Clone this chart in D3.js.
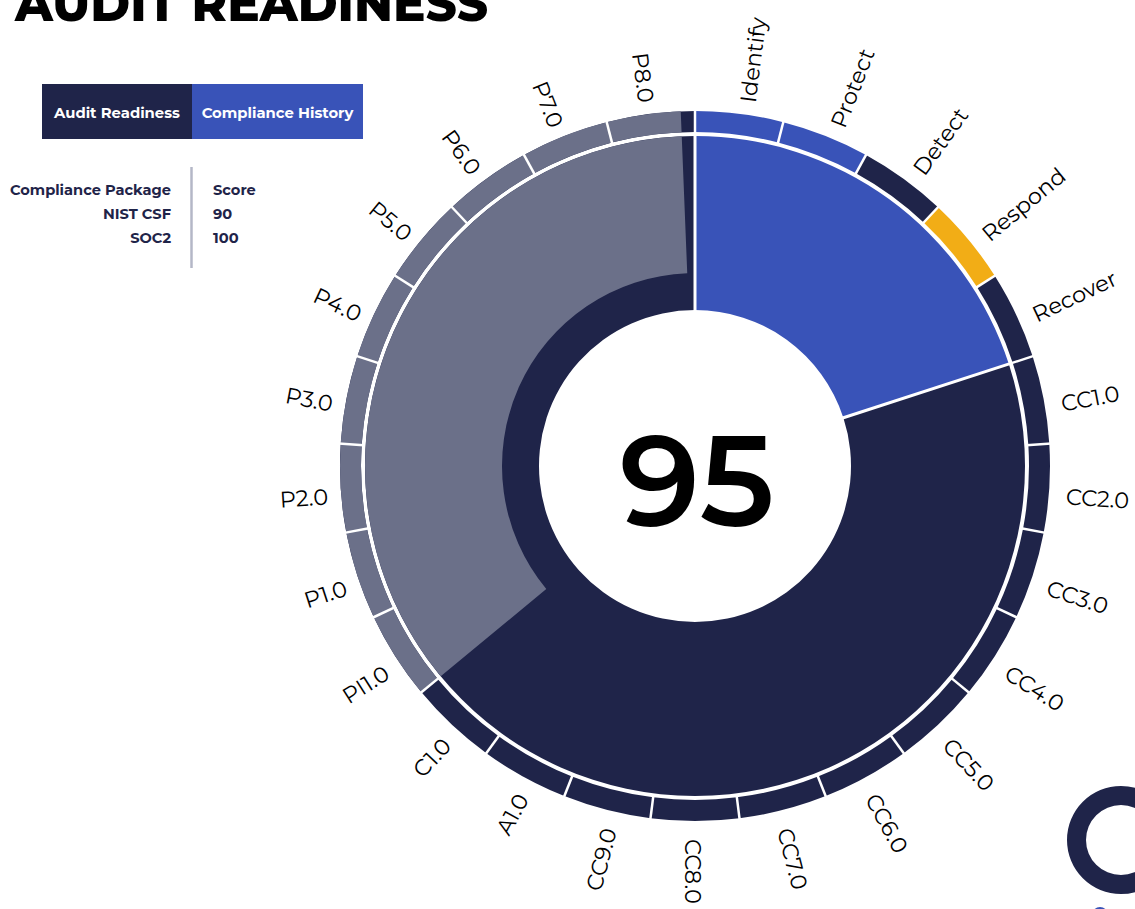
<!DOCTYPE html>
<html>
<head>
<meta charset="utf-8">
<script src="https://cdn.jsdelivr.net/npm/d3@7"></script>
<style>
  html, body { margin: 0; padding: 0; background: #fff; overflow: hidden; }
  svg { display: block; }
</style>
</head>
<body>
<div id="chart"></div>
<script>
// --- datos ---
const packages = ["NIST CSF", "SOC2"];
const packageScores = [90, 100];
const nistControls = ["Identify", "Protect", "Detect", "Respond", "Recover"];
const soc2Controls = ["CC1.0", "CC2.0", "CC3.0", "CC4.0", "CC5.0", "CC6.0", "CC7.0", "CC8.0", "CC9.0",
  "A1.0", "C1.0", "PI1.0", "P1.0", "P2.0", "P3.0", "P4.0", "P5.0", "P6.0", "P7.0", "P8.0"];
const nistStatus = ["met", "met", "open", "partial", "open"];
// tramo pendiente (gris): desde PI1.0 y cubre ~8.84 controles
const pendingFrom = "PI1.0";
const pendingSpan = 8.84;
const tabs = ["Audit Readiness", "Compliance History"];

const colors = { "NIST CSF": "#3953b8", "SOC2": "#1f2449", met: "#3953b8", open: "#1f2449",
  partial: "#f2ad16", pending: "#6b7089", text: "#1f2449" };

const W = 1135, H = 909;
const cx = 695, cy = 466;
const rHole = 156, rInner = 193, rMain = 330, rOut0 = 334, rOut1 = 355, rLabel = 370;

const svg = d3.select("#chart").append("svg").attr("width", W).attr("height", H);

// titulo (cortado arriba, como en la captura)
svg.append("text")
  .attr("x", 15).attr("y", 21)
  .attr("font-family", "Montserrat, 'Open Sans', 'Noto Sans', sans-serif")
  .attr("font-weight", 800).attr("font-size", 50)
  .attr("textLength", 473).attr("lengthAdjust", "spacingAndGlyphs")
  .attr("fill", "#000")
  .text("AUDIT READINESS");

// pestañas
const tabX = d3.scaleOrdinal().domain(tabs).range([42, 192]);
const tabW = d3.scaleOrdinal().domain(tabs).range([150, 171]);
const tabG = svg.append("g").selectAll("g").data(tabs).join("g");
tabG.append("rect")
  .attr("x", d => tabX(d)).attr("y", 84)
  .attr("width", d => tabW(d)).attr("height", 55)
  .attr("fill", (d, i) => i === 0 ? colors.SOC2 : colors["NIST CSF"]);
tabG.append("text")
  .attr("x", d => tabX(d) + tabW(d) / 2).attr("y", 117.5)
  .attr("text-anchor", "middle")
  .attr("font-family", "Montserrat, 'Open Sans', sans-serif")
  .attr("font-weight", 700).attr("font-size", 14.8)
  .attr("fill", "#fff")
  .text(d => d);

// tabla de puntuaciones
const rowY = d3.scalePoint().domain(["header", ...packages]).range([195, 243]);
const tabla = svg.append("g")
  .attr("font-family", "Montserrat, 'Open Sans', sans-serif")
  .attr("font-weight", 700).attr("font-size", 14.6).attr("fill", colors.text);
tabla.append("text").attr("x", 171).attr("y", rowY("header")).attr("text-anchor", "end").text("Compliance Package");
tabla.append("text").attr("x", 213).attr("y", rowY("header")).text("Score");
packages.forEach((p, i) => {
  tabla.append("text").attr("x", 171).attr("y", rowY(p)).attr("text-anchor", "end").text(p);
  tabla.append("text").attr("x", 213).attr("y", rowY(p)).text(packageScores[i]);
});
svg.append("line")
  .attr("x1", 191.5).attr("x2", 191.5).attr("y1", 167).attr("y2", 268)
  .attr("stroke", "#b4b7c7").attr("stroke-width", 2.5);

// --- grafico radial ---
const controls = nistControls.concat(soc2Controls);
const controlColor = controls.map((c, i) => i < nistControls.length ? colors[nistStatus[i]] : colors.SOC2);
const angle = d3.scaleLinear().domain([0, controls.length]).range([0, 2 * Math.PI]);
const g = svg.append("g").attr("transform", `translate(${cx},${cy})`);

const pkgSpans = [
  { pkg: packages[0], a0: 0, a1: nistControls.length },
  { pkg: packages[1], a0: nistControls.length, a1: controls.length }
];
const pStart = controls.indexOf(pendingFrom);
const pEnd = pStart + pendingSpan;

const arc = d3.arc();

// anillo principal
g.selectAll("path.pkg").data(pkgSpans).join("path")
  .attr("class", "pkg")
  .attr("fill", d => colors[d.pkg])
  .attr("d", d => arc({ innerRadius: rHole, outerRadius: rMain, startAngle: angle(d.a0), endAngle: angle(d.a1) }));
g.append("path")
  .attr("fill", colors.pending)
  .attr("d", arc({ innerRadius: rInner, outerRadius: rMain, startAngle: angle(pStart), endAngle: angle(pEnd) }));

// anillo exterior de controles
g.selectAll("path.ctrl").data(controls).join("path")
  .attr("class", "ctrl")
  .attr("fill", (d, i) => controlColor[i])
  .attr("d", (d, i) => arc({ innerRadius: rOut0, outerRadius: rOut1, startAngle: angle(i), endAngle: angle(i + 1) }));
g.append("path")
  .attr("fill", colors.pending)
  .attr("d", arc({ innerRadius: rOut0, outerRadius: rOut1, startAngle: angle(pStart), endAngle: angle(pEnd) }));

// separadores blancos
const radial = (a, r) => [r * Math.sin(a), -r * Math.cos(a)];
g.selectAll("line.sep").data(d3.range(controls.length)).join("line")
  .attr("class", "sep")
  .attr("x1", i => radial(angle(i), rOut0 - 2)[0]).attr("y1", i => radial(angle(i), rOut0 - 2)[1])
  .attr("x2", i => radial(angle(i), rOut1 + 2)[0]).attr("y2", i => radial(angle(i), rOut1 + 2)[1])
  .attr("stroke", "#fff").attr("stroke-width", 2.5);
g.selectAll("line.psep").data(pkgSpans).join("line")
  .attr("class", "psep")
  .attr("x1", d => radial(angle(d.a0), rHole - 4)[0]).attr("y1", d => radial(angle(d.a0), rHole - 4)[1])
  .attr("x2", d => radial(angle(d.a0), rMain + 2)[0]).attr("y2", d => radial(angle(d.a0), rMain + 2)[1])
  .attr("stroke", "#fff").attr("stroke-width", 3);

// etiquetas
g.append("g").attr("transform", "translate(2,3)")
  .selectAll("text.lbl").data(controls).join("text")
  .attr("class", "lbl")
  .attr("transform", (d, i) => {
    const deg = angle(i + 0.5) * 180 / Math.PI;
    return deg <= 180.5
      ? `rotate(${deg - 90}) translate(${rLabel},0)`
      : `rotate(${deg - 90}) translate(${rLabel},0) rotate(180)`;
  })
  .attr("text-anchor", (d, i) => angle(i + 0.5) * 180 / Math.PI <= 180.5 ? "start" : "end")
  .attr("dy", "0.55em")
  .attr("font-family", "Montserrat, 'DejaVu Sans', sans-serif")
  .attr("font-weight", 400).attr("font-size", 22.5)
  .attr("fill", "#000")
  .text(d => d);

// puntuacion global
g.append("text")
  .attr("x", 2).attr("y", 60)
  .attr("text-anchor", "middle")
  .attr("font-family", "Montserrat, 'Open Sans', sans-serif")
  .attr("font-weight", 600).attr("font-size", 128)
  .attr("fill", "#000")
  .text(d3.mean(packageScores));

// logo abajo a la derecha (recortado por el borde)
svg.append("path")
  .attr("transform", "translate(1121,840)")
  .attr("fill", colors.SOC2)
  .attr("d", d3.arc()({ innerRadius: 35, outerRadius: 54, startAngle: 0, endAngle: 2 * Math.PI }));
svg.append("circle").attr("cx", 1100).attr("cy", 915).attr("r", 8).attr("fill", colors["NIST CSF"]);
</script>
</body>
</html>
